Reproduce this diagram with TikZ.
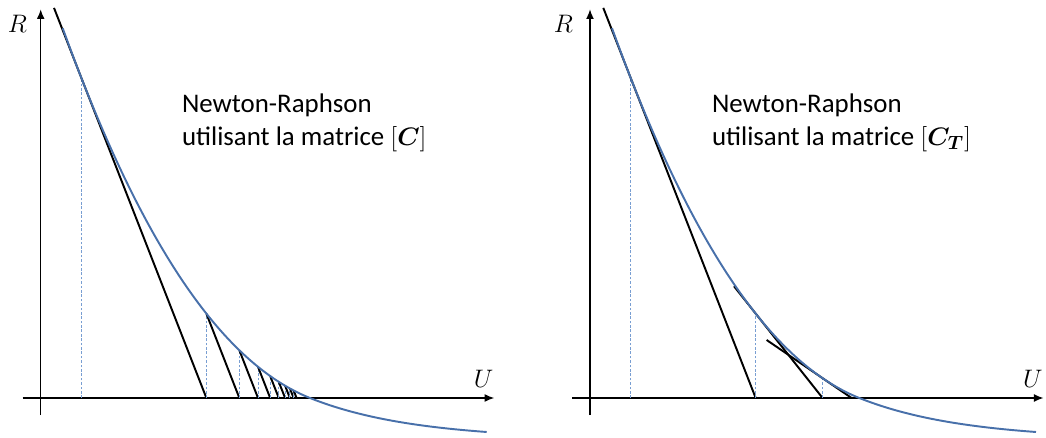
\documentclass[tikz,border=0pt]{standalone}
\usepackage{fontspec}
\setmainfont{Carlito}
\usepackage{bm}
\usetikzlibrary{arrows.meta}
\definecolor{bleucourbe}{RGB}{72,112,170}
\definecolor{bleurappel}{RGB}{120,158,210}

\begin{document}
\begin{tikzpicture}[x=0.02cm,y=0.02cm,>={Latex[length=5.5pt,width=4.5pt]},
  declare function={
    sv(\u)=(269.3-\u)/100;
    courbe(\u)=(\u<269.3) ? (40*sv(\u)+36.92*sv(\u)*sv(\u)+2.981*sv(\u)*sv(\u)*sv(\u)) : (-41.6*(1-exp(-(\u-269.3)/104)));
    pente(\u)=0.4+0.7384*sv(\u)+0.08943*sv(\u)*sv(\u);
  },
  axe/.style={->,line width=0.8pt},
  trace/.style={bleucourbe,line width=1.1pt},
  tangente/.style={black,line width=1.1pt},
  rappel/.style={bleurappel,line width=0.5pt,dash pattern=on 1.5pt off 1pt},
  texte/.style={font=\fontsize{15.3}{18.5}\selectfont,inner sep=0pt},
  lettre/.style={font=\fontsize{13.8}{16}\selectfont,inner sep=0pt}]
  \useasboundingbox (-40.7,-39) rectangle (1005.3,398);
  % (A) matrice [C] constante
  \draw[axe] (-18,0) -- (453.6,0);
  \draw[axe] (0,-17) -- (0,388.7);
  \node[lettre] (R1) at (-23.2,374.5) {$R$};
  \node[lettre] (U1) at (442.8,19.5) {$U$};
  \node[texte,anchor=base west] (titreA1) at (141,285.7) {Newton-Raphson};
  \node[texte,anchor=base west] (titreA2) at (141,253) {utilisant la matrice $[\bm{C}]$};
  % pente fixe K = pente(40.3) = 2.56
  \pgfmathsetmacro\K{pente(40.3)}
  \xdef\uk{40.3}
  \foreach \i in {1,...,9}{
    \pgfmathsetmacro\rk{courbe(\uk)}
    \pgfmathsetmacro\uks{\uk+\rk/\K}
    \pgfmathsetmacro\ext{\i==1 ? 27 : 0}
    \draw[rappel] (\uk,0) -- (\uk,\rk);
    \draw[tangente] (\uk-\ext,\rk+\K*\ext) -- (\uks,0);
    \xdef\uk{\uks}
  }
  \draw[trace] plot[domain=22:446,samples=120] (\x,{courbe(\x)});
  % (B) matrice tangente [C_T]
  \begin{scope}[shift={(549.3,0)}]
    \draw[axe] (-18,0) -- (453.6,0);
    \draw[axe] (0,-17) -- (0,388.7);
    \node[lettre] (R2) at (-26.5,374.5) {$R$};
    \node[lettre] (U2) at (442.8,19.5) {$U$};
    \node[texte,anchor=base west] (titreB1) at (121.7,285.7) {Newton-Raphson};
    \node[texte,anchor=base west] (titreB2) at (121.7,253) {utilisant la matrice $[\bm{C}_{\bm{T}}]$};
    % tangente recalculee a chaque pas
    \xdef\uk{40.3}
    \foreach \ext in {27,21.7,56}{
      \pgfmathsetmacro\rk{courbe(\uk)}
      \pgfmathsetmacro\pk{pente(\uk)}
      \pgfmathsetmacro\uks{\uk+\rk/\pk}
      \draw[rappel] (\uk,0) -- (\uk,\rk);
      \draw[tangente] (\uk-\ext,\rk+\pk*\ext) -- (\uks,0);
      \xdef\uk{\uks}
    }
    \draw[trace] plot[domain=22:446,samples=120] (\x,{courbe(\x)});
  \end{scope}
\end{tikzpicture}
\end{document}
